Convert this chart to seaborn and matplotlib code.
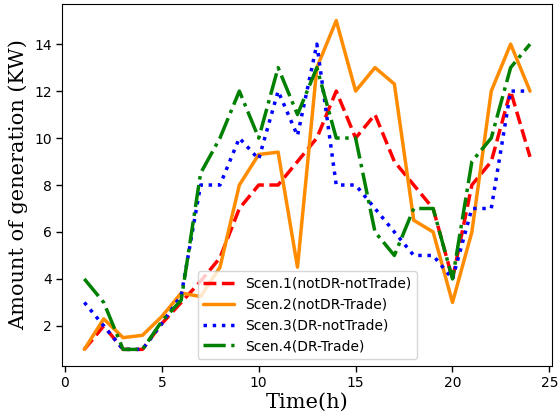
import seaborn as sns
import pandas as pd
import matplotlib as mpl
mpl.use("Agg")
import matplotlib.pyplot as plt

hours = list(range(1, 25))
scen1 = [1, 2, 1, 1, 2.1, 3, 3.9, 4.9, 7, 8, 8, 9, 10, 12, 10, 11, 9, 8, 7, 4, 8, 9, 12, 9.2]
scen2 = [1, 2.3, 1.5, 1.6, 2.4, 3.4, 3.25, 4.5, 8, 9.3, 9.4, 4.5, 13, 15, 12, 13, 12.3, 6.5, 6, 3, 6, 12, 14, 12]
scen3 = [3, 2, 1, 1, 2.1, 3.3, 8, 8, 10, 9.1, 12, 10.1, 14, 8, 8, 7, 6, 5, 5, 4, 7, 7, 12, 12]
scen4 = [4, 3, 1, 1, 2.2, 3.1, 8.5, 10, 12, 10, 13, 11, 13, 10, 10, 6, 5, 7, 7, 4, 9, 10, 13, 14]
labels = ["Scen.1(notDR-notTrade)", "Scen.2(notDR-Trade)",
          "Scen.3(DR-notTrade)", "Scen.4(DR-Trade)"]
colors = ["red", "darkorange", "blue", "green"]
styles = ["--", "-", ":", "-."]

sns.set_style("ticks", {"axes.edgecolor": "black", "xtick.color": "black",
                        "ytick.color": "black", "text.color": "black",
                        "axes.labelcolor": "black"})
plt.rcParams["font.family"] = ["DejaVu Sans"]

fig, ax = plt.subplots(figsize=(5.59, 4.2), dpi=100)
fig.subplots_adjust(left=0.111, right=0.988, top=0.99, bottom=0.129)

for vals, lab, c, ls in zip([scen1, scen2, scen3, scen4], labels, colors, styles):
    df = pd.DataFrame({"Time(h)": hours, "gen": vals})
    sns.lineplot(data=df, x="Time(h)", y="gen", ax=ax, color=c,
                 linestyle=ls, linewidth=2.5, label=lab)

ax.set_xticks([0, 5, 10, 15, 20, 25])
ax.set_yticks([2, 4, 6, 8, 10, 12, 14])
ax.tick_params(labelsize=10, length=4, width=1)
ax.set_xlabel("Time(h)", family="DejaVu Serif", fontsize=15, labelpad=2)
ax.set_ylabel("Amount of generation (KW)", family="DejaVu Serif", fontsize=15)
ax.legend(loc="lower center", fontsize=10, frameon=True, handlelength=2.2)

plt.savefig("out.png", dpi=100)
